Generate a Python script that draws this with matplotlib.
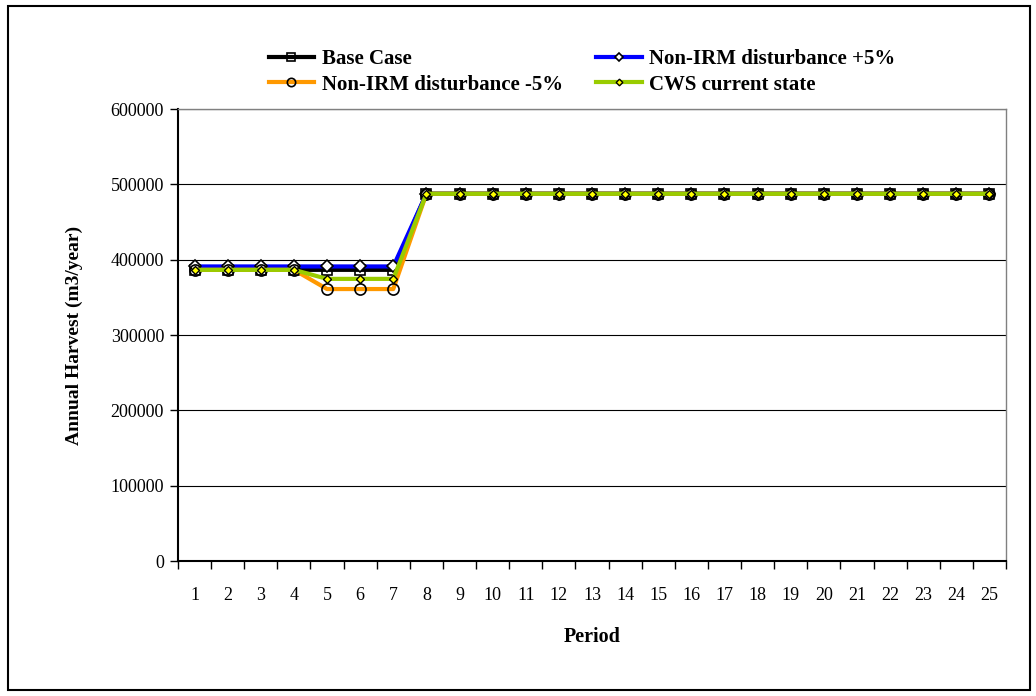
import matplotlib.pyplot as plt
import matplotlib.patches as patches

# Harvest by period for each scenario
periods = list(range(1, 26))
base_case = [386500] * 7 + [487500] * 18
irm_plus5 = [391000] * 7 + [487500] * 18
irm_minus5 = [386500] * 4 + [361000] * 3 + [487500] * 18
cws_state = [386500] * 4 + [374500] * 3 + [487500] * 18

plt.rcParams['font.family'] = ['Liberation Serif', 'DejaVu Serif']

fig = plt.figure(figsize=(10.36, 6.96), dpi=100)
ax = fig.add_axes([178 / 1036, 1 - 561 / 696, 828 / 1036, 452 / 696])

ax.plot(periods, base_case, color='black', lw=3, marker='s', ms=7,
        mfc='none', mec='black', mew=1.2, label='Base Case')
ax.plot(periods, irm_plus5, color='#0000ff', lw=3, marker='D', ms=6,
        mfc='white', mec='black', mew=1.2, label='Non-IRM disturbance +5%')
ax.plot(periods, irm_minus5, color='#ff9900', lw=3, marker='o', ms=8,
        mfc='none', mec='black', mew=1.2, label='Non-IRM disturbance -5%')
ax.plot(periods, cws_state, color='#99cc00', lw=3, marker='D', ms=4.5,
        mfc='#ffff00', mec='black', mew=1.0, label='CWS current state')

ax.set_xlim(0.5, 25.5)
ax.set_ylim(0, 600000)
ax.set_yticks(range(0, 600001, 100000))
ax.set_xticks(periods)
ax.set_xticks([p + 0.5 for p in range(0, 26)], minor=True)
ax.tick_params(axis='x', which='major', length=0, pad=19, labelsize=13)
ax.tick_params(axis='x', which='minor', length=6, width=1, direction='out')
ax.tick_params(axis='y', length=6, width=1, direction='out', labelsize=13, pad=4)
ax.grid(axis='y', color='black', lw=0.8)
ax.set_axisbelow(True)

for side in ['top', 'right']:
    ax.spines[side].set_color('#808080')
    ax.spines[side].set_linewidth(1)
ax.spines['left'].set_linewidth(1.5)
ax.spines['bottom'].set_linewidth(1.5)

ax.set_xlabel('Period', fontsize=14.5, fontweight='bold', labelpad=16)
ax.set_ylabel('Annual Harvest (m3/year)', fontsize=14, fontweight='bold', labelpad=20)

handles, labels = ax.get_legend_handles_labels()
order = [0, 2, 1, 3]
fig.legend([handles[i] for i in order], [labels[i] for i in order],
           ncol=2, loc='center', bbox_to_anchor=(582 / 1036, 1 - 72 / 696),
           frameon=False, prop={'weight': 'bold', 'size': 15},
           handlelength=2.2, handletextpad=0.35, columnspacing=1.6,
           labelspacing=0.25, borderaxespad=0, markerscale=0.75)

# outer frame around the chart
fig.patches.append(patches.Rectangle((8 / 1036, 6 / 696), 1022 / 1036, 684 / 696,
                                     transform=fig.transFigure, fill=False,
                                     edgecolor='black', lw=1.5))

fig.savefig('out.png', dpi=100)
